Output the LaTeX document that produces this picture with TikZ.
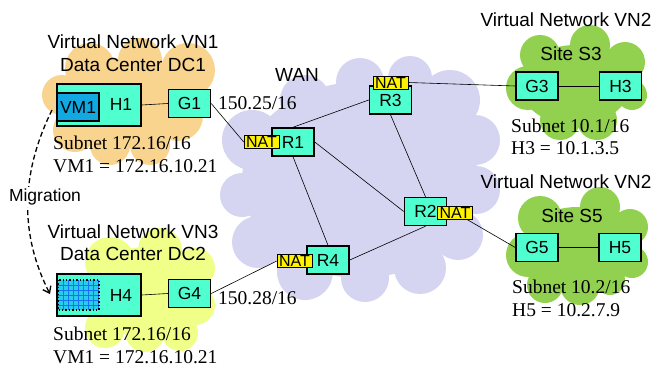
\documentclass[tikz,border=0pt]{standalone}
\usepackage{fontspec}
\setmainfont{Liberation Serif}
\setsansfont{Liberation Sans}
\usetikzlibrary{arrows.meta}
\usetikzlibrary{positioning}

\definecolor{boxgreen}{RGB}{80,255,208}
\definecolor{vmblue}{RGB}{18,168,226}
\definecolor{gridcyan}{RGB}{40,205,235}
\definecolor{dcorange}{RGB}{249,212,142}
\definecolor{dcyellow}{RGB}{240,255,136}
\definecolor{wanblue}{RGB}{213,213,242}
\definecolor{sitegreen}{RGB}{146,208,80}

\begin{document}
\begin{tikzpicture}[x=1pt, y=-1pt, every node/.style={inner sep=0pt, font=\sffamily\fontsize{17.5}{20}\selectfont}, box/.style={draw, line width=1.5pt, fill=boxgreen, minimum width=42pt, minimum height=28pt}, nat/.style={draw, line width=0.5pt, fill=yellow, minimum width=35pt, minimum height=13pt, font=\sffamily\fontsize{16}{16}\selectfont}
]
 \tikzstyle{ttl}=[font=\sffamily\fontsize{19}{22}\selectfont];
 \tikzstyle{addr}=[anchor=west, font=\rmfamily\fontsize{19.5}{22}\selectfont];
 \tikzstyle{lnk}=[line width=0.6pt];
\useasboundingbox (0,0) rectangle (654,367);

% clouds
\fill[dcorange] (128,103) ellipse[x radius=65, y radius=45] (62,95) circle[radius=20] (90,68) circle[radius=25] (140,60) circle[radius=22] (188,70) circle[radius=27] (75,130) circle[radius=22] (178,116) circle[radius=25] (110,145) circle[radius=20] (150,145) circle[radius=20];
\fill[dcyellow] (145,292) ellipse[x radius=55, y radius=45] (110,262) circle[radius=25] (160,250) circle[radius=22] (195,268) circle[radius=20] (95,295) circle[radius=22] (195,305) circle[radius=20] (105,328) circle[radius=20] (145,332) circle[radius=20] (180,333) circle[radius=18];
\fill[wanblue] (360,180) ellipse[x radius=118, y radius=98] (252,140) circle[radius=30] (242,195) circle[radius=22] (258,242) circle[radius=26] (305,272) circle[radius=28] (365,278) circle[radius=24] (420,268) circle[radius=26] (458,235) circle[radius=25] (476,190) circle[radius=24] (475,140) circle[radius=25] (450,100) circle[radius=30] (410,78) circle[radius=22] (360,82) circle[radius=24] (305,100) circle[radius=25];
\fill[sitegreen] (575,85) ellipse[x radius=55, y radius=40] (540,55) circle[radius=20] (590,45) circle[radius=20] (625,62) circle[radius=20] (528,88) circle[radius=22] (632,95) circle[radius=15] (560,120) circle[radius=20] (597,120) circle[radius=20];
\fill[sitegreen] (577,247) ellipse[x radius=55, y radius=40] (540,218) circle[radius=22] (600,207) circle[radius=20] (630,227) circle[radius=18] (528,255) circle[radius=22] (632,262) circle[radius=16] (545,285) circle[radius=18] (580,285) circle[radius=20] (610,280) circle[radius=15];

% data center DC1
\node[ttl] (vn1) at (133,42) {Virtual Network VN1};
\node[ttl] (dc1) at (133,65) {Data Center DC1};
\node[box, minimum width=84pt, minimum height=42pt] (H1) at (99,105) {};
\node (H1txt) at (121,104) {H1};
\node[box, fill=vmblue] (VM1) at (78,107) {VM1};
\node[box] (G1) at (189.5,103.5) {G1};
\node[addr] (sub1) at (53,143) {Subnet 172.16/16};
\node[addr] (ip1) at (53,166) {VM1 = 172.16.10.21};
\node[addr] (pre1) at (218,103) {150.25/16};

% data center DC2
\node[ttl] (vn3) at (133,232) {Virtual Network VN3};
\node[ttl] (dc2) at (133,254) {Data Center DC2};
\node[box, minimum width=84pt, minimum height=42pt] (H4) at (99,295) {};
\node (H4txt) at (121,295) {H4};
\fill[gridcyan] (58,280) rectangle (99,310);
\foreach \gx in {63,68,...,98} \draw[blue!45!gridcyan, line width=0.3pt] (\gx,280) -- (\gx,310);
\foreach \gy in {285,290,...,309} \draw[blue!45!gridcyan, line width=0.3pt] (58,\gy) -- (99,\gy);
\draw[dotted, line width=1.4pt] (58,280) rectangle (99,310);
\node[box] (G4) at (189.5,293.5) {G4};
\node[addr] (sub2) at (53,334) {Subnet 172.16/16};
\node[addr] (ip2) at (53,357) {VM1 = 172.16.10.21};
\node[addr] (pre2) at (218,298) {150.28/16};

% migration
\coordinate (mig1) at (52,110);
\coordinate (mig2) at (50,294);
\draw[dashed, line width=1.3pt, dash pattern=on 5pt off 3pt, -{Straight Barb[length=6pt, width=9pt]}] (mig1) .. controls (20,175) and (20,235) .. (mig2);
\node[fill=white, inner sep=2pt] (mig) at (45,197) {Migration};

% WAN
\node[ttl] (wan) at (297,75) {WAN};
\node[box] (R1) at (293,142) {R1};
\node[box] (R3) at (390.5,100) {R3};
\node[box] (R2) at (425.5,211.5) {R2};
\node[box] (R4) at (328,260) {R4};
\node[nat, anchor=east] (N1) at ([xshift=8pt]R1.west) {NAT};
\node[nat, anchor=south] (N3) at ([yshift=-4pt]R3.north) {NAT};
\node[nat, anchor=west] (N2) at ([xshift=-10pt, yshift=-1pt]R2.east) {NAT};
\node[nat, anchor=east] (N4) at ([xshift=6pt, yshift=-1pt]R4.west) {NAT};

% sites
\node[ttl] (vn2a) at (566,20) {Virtual Network VN2};
\node[ttl] (s3) at (571,54) {Site S3};
\node[box] (G3) at (537,86) {G3};
\node[box] (H3) at (620.5,86) {H3};
\node[addr] (sub3) at (511,126) {Subnet 10.1/16};
\node[addr] (ip3) at (511,148) {H3 = 10.1.3.5};
\node[ttl] (vn2b) at (566,182) {Virtual Network VN2};
\node[ttl] (s5) at (572,216) {Site S5};
\node[box] (G5) at (537,247.5) {G5};
\node[box] (H5) at (620,247.5) {H5};
\node[addr] (sub5) at (512,287) {Subnet 10.2/16};
\node[addr] (ip5) at (512,310) {H5 = 10.2.7.9};

% links
\draw[lnk] (H1.east) -- (G1.west);
\draw[lnk] (H4.east) -- (G4.west);
\draw[lnk] (G1.east) -- (N1.west);
\draw[lnk] (G4.east) -- (N4.west);
\draw[lnk] (R1.north) -- (R3.west);
\draw[lnk] (R1.east) -- (R2.west);
\draw[lnk] (R1.south) -- (R4.north);
\draw[lnk] (R3.south) -- (R2.north);
\draw[lnk] (R4.east) -- (R2.south);
\draw[lnk] (N3.east) -- (G3.west);
\draw[lnk] (N2) -- (G5.west);
\draw[lnk] (G3) -- (H3);
\draw[lnk] (G5) -- (H5);

\end{tikzpicture}
\end{document}
